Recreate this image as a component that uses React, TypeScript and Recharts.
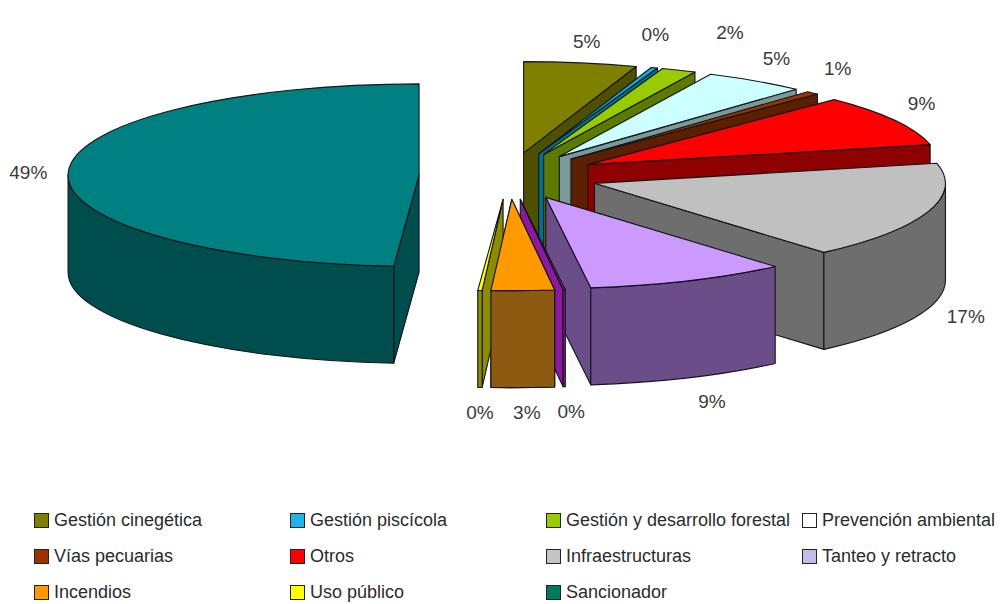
import React from "react";
import { PieChart, Pie, Legend } from "recharts";

const names = [
  "Gestión cinegética",
  "Gestión piscícola",
  "Gestión y desarrollo forestal",
  "Prevención ambiental",
  "Vías pecuarias",
  "Otros",
  "Infraestructuras",
  "Tanteo y retracto",
  "",
  "Incendios",
  "Uso público",
  "Sancionador",
];
const values = [5.2, 0.3, 1.6, 4.7, 0.6, 9.1, 17.2, 9.3, 0.1, 2.9, 0.2, 48.9];
const topColors = ["#808000", "#00b4e6", "#99cc00", "#ccffff", "#993300", "#ff0000", "#c0c0c0", "#cc99ff", "#8a1a9e", "#ff9900", "#ffff00", "#008080"];
const wallColors = ["#4f4f00", "#00708c", "#5c7a00", "#7a9999", "#5c1f00", "#8f0000", "#6e6e6e", "#6b4d8a", "#8a1a9e", "#8c5a10", "#8c8c00", "#004d4d"];
const legendColors = ["#808000", "#1fb4e6", "#99cc00", "#ffffff", "#993300", "#ff0000", "#c4c4c4", "#c4bce8", "", "#ff9900", "#ffff00", "#007a5c"];

// label offset from the outer middle of each exploded slice
const labelNudge = [
  [6, -21], [1, -33], [51, -38], [21, -22], [25, -24], [27, -17],
  [38, 105], [23, 121], [7, 122], [4, 122], [0, 122], [-40, 1],
];

const SQUASH = 0.26;
const EXPLODE = 90;
const DEPTH = 97;
const FONT = "'Liberation Sans', Arial, sans-serif";
const FRONT_SLICE = 9; // Incendios sits in front of Uso público, so it gets painted again on top

const data = names.map((name, i) => ({ name, value: values[i], fill: topColors[i] }));

const rad = (d: number) => (d * Math.PI) / 180;

function Slice3D(props: any) {
  const { cx, cy, outerRadius, startAngle, endAngle, index } = props;
  const from = 90 - startAngle;
  const to = 90 - endAngle;
  const mid = (from + to) / 2;
  const rx = outerRadius;
  const ry = outerRadius * SQUASH;
  const ex = cx + EXPLODE * Math.sin(rad(mid));
  const ey = cy - EXPLODE * SQUASH * Math.cos(rad(mid));
  const pt = (a: number, down = 0) =>
    `${ex + rx * Math.sin(rad(a))} ${ey - ry * Math.cos(rad(a)) + down}`;
  const arc = (a: number, sweep: number, down = 0) =>
    `A ${rx} ${ry} 0 ${Math.abs(to - from) > 180 ? 1 : 0} ${sweep} ${pt(a, down)}`;
  const apex = `${ex} ${ey}`;
  const apexLow = `${ex} ${ey + DEPTH}`;
  const line = { stroke: "#14141a", strokeWidth: 1.1, strokeLinejoin: "round" as const };

  const wallFrom = Math.max(from, 90);
  const wallTo = Math.min(to, 270);

  return (
    <g>
      {to < 180 && (
        <path d={`M ${apex} L ${pt(to)} L ${pt(to, DEPTH)} L ${apexLow} Z`} fill={wallColors[index]} {...line} />
      )}
      {from > 180 && (
        <path d={`M ${apex} L ${pt(from)} L ${pt(from, DEPTH)} L ${apexLow} Z`} fill={wallColors[index]} {...line} />
      )}
      {wallTo > wallFrom && (
        <path
          d={`M ${pt(wallFrom)} ${arc(wallTo, 1)} L ${pt(wallTo, DEPTH)} ${arc(wallFrom, 0, DEPTH)} Z`}
          fill={wallColors[index]}
          {...line}
        />
      )}
      <path d={`M ${apex} L ${pt(from)} ${arc(to, 1)} Z`} fill={topColors[index]} {...line} />
    </g>
  );
}

function renderLabel(props: any) {
  const { cx, cy, outerRadius, midAngle, percent, index } = props;
  const reach = outerRadius + EXPLODE;
  const x = cx + reach * Math.cos(rad(midAngle)) + labelNudge[index][0];
  const y = cy - reach * SQUASH * Math.sin(rad(midAngle)) + labelNudge[index][1];
  return (
    <text x={x} y={y} textAnchor="middle" dominantBaseline="central" fontFamily={FONT} fontSize={19} fill="#3a3a3a">
      {`${Math.round(percent * 100)}%`}
    </text>
  );
}

function ChartLegend({ payload }: any) {
  // the overlay pie repeats every name, and the slice with no name has no legend entry
  const items = (payload || []).filter(
    (p: any, i: number, all: any[]) => p.value && p.type !== "none" && all.findIndex((q) => q.value === p.value) === i,
  );
  return (
    <div style={{ display: "grid", gridTemplateColumns: "repeat(4, 256px)", gridAutoRows: "36px", paddingLeft: 34, fontFamily: FONT, fontSize: 18, color: "#2b2b2b" }}>
      {items.map((p: any) => (
        <div key={p.value} style={{ display: "flex", alignItems: "center", whiteSpace: "nowrap" }}>
          <span style={{ width: 13, height: 13, marginRight: 5, background: legendColors[names.indexOf(p.value)], border: "1px solid #222", flex: "none" }} />
          {p.value}
        </div>
      ))}
    </div>
  );
}

const pieGeometry = {
  dataKey: "value",
  nameKey: "name",
  cx: 509,
  cy: 176,
  outerRadius: 351,
  startAngle: 90,
  endAngle: -270,
  stroke: "none",
  isAnimationActive: false,
  rootTabIndex: -1,
};

export default function App() {
  return (
    <div style={{ position: "absolute", left: 0, top: 0, width: 1000, height: 604, background: "#fff" }}>
      <PieChart width={1000} height={604} margin={{ top: 0, right: 0, bottom: 0, left: 0 }}>
        <Pie
          {...pieGeometry}
          data={data}
          shape={(p: any) => <Slice3D {...p} />}
          label={renderLabel}
          labelLine={false}
        />
        <Pie
          {...pieGeometry}
          data={data}
          legendType="none"
          label={false}
          labelLine={false}
          shape={(p: any) => (p.index === FRONT_SLICE ? <Slice3D {...p} /> : <g />)}
        />
        <Legend content={<ChartLegend />} itemSorter={null} wrapperStyle={{ left: 0, top: 502, width: 1000 }} />
      </PieChart>
    </div>
  );
}
